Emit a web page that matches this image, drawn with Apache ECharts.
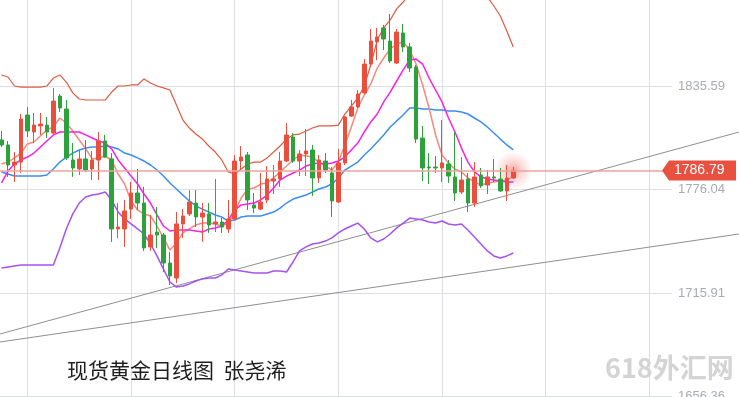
<!DOCTYPE html>
<html>
<head>
<meta charset="utf-8">
<title>现货黄金日线图</title>
<script src="https://cdn.jsdelivr.net/npm/echarts@6/dist/echarts.min.js"></script>
<style>
  html, body { margin: 0; padding: 0; background: #fff; }
  #main { width: 739px; height: 397px; }
</style>
</head>
<body>
<div id="main"></div>
<script>
  // 日K [open, close, low, high]
  const candles = [
    [1804.5, 1801.6, 1800.4, 1809.7], [1801.6, 1790.0, 1783.1, 1803.9], [1790.0, 1791.7, 1780.2, 1797.5],
    [1791.7, 1816.6, 1785.4, 1819.5], [1818.9, 1809.7, 1806.2, 1823.6], [1809.1, 1813.1, 1802.7, 1820.1],
    [1812.6, 1813.7, 1807.4, 1820.1], [1813.1, 1809.1, 1805.6, 1817.8], [1808.5, 1827.0, 1807.9, 1834.5],
    [1829.9, 1823.0, 1820.7, 1831.1], [1822.4, 1794.1, 1792.9, 1827.6], [1792.9, 1788.3, 1783.1, 1802.7],
    [1787.7, 1793.5, 1784.2, 1798.7], [1793.5, 1787.1, 1786.0, 1804.5], [1787.7, 1792.9, 1781.3, 1798.1],
    [1792.9, 1803.9, 1781.3, 1809.1], [1803.9, 1794.6, 1794.1, 1807.4], [1793.5, 1753.0, 1745.5, 1796.9],
    [1753.0, 1754.1, 1747.8, 1768.0], [1753.0, 1763.4, 1742.6, 1769.8], [1764.5, 1773.8, 1758.8, 1780.2],
    [1773.8, 1768.0, 1764.0, 1787.7], [1768.0, 1742.0, 1740.3, 1777.3], [1742.6, 1749.5, 1740.3, 1761.1],
    [1751.2, 1749.5, 1742.0, 1765.7], [1749.5, 1733.3, 1728.1, 1750.7], [1733.3, 1725.8, 1720.6, 1739.7],
    [1724.6, 1755.9, 1721.7, 1762.8], [1755.9, 1760.5, 1747.8, 1764.5], [1761.7, 1768.6, 1760.5, 1775.5],
    [1768.0, 1759.9, 1754.1, 1775.5], [1759.9, 1762.2, 1745.5, 1768.0], [1761.7, 1755.3, 1750.7, 1768.0],
    [1755.9, 1757.0, 1751.2, 1781.9], [1757.0, 1754.1, 1750.7, 1759.3], [1753.0, 1758.8, 1750.7, 1769.8],
    [1758.8, 1792.3, 1758.2, 1795.8], [1792.3, 1794.6, 1787.1, 1801.0], [1795.8, 1769.8, 1764.0, 1797.5],
    [1766.9, 1765.1, 1762.2, 1773.8], [1764.5, 1768.6, 1764.0, 1785.4], [1769.8, 1781.9, 1768.0, 1789.4],
    [1780.7, 1781.9, 1773.2, 1790.0], [1781.9, 1792.3, 1777.3, 1797.5], [1792.3, 1807.4, 1791.7, 1814.3],
    [1806.2, 1792.3, 1791.2, 1808.5], [1792.3, 1796.4, 1783.6, 1798.7], [1796.4, 1798.1, 1783.6, 1810.8],
    [1798.7, 1782.5, 1772.1, 1801.6], [1782.5, 1792.9, 1779.6, 1795.8], [1792.3, 1787.1, 1785.4, 1796.9],
    [1785.4, 1769.2, 1759.9, 1788.8], [1768.6, 1791.2, 1768.0, 1799.3], [1791.2, 1817.8, 1790.0, 1818.3],
    [1818.3, 1823.6, 1817.8, 1827.6], [1823.6, 1831.1, 1823.0, 1833.4], [1831.7, 1848.4, 1831.1, 1851.3],
    [1848.4, 1861.7, 1846.7, 1868.7], [1861.2, 1864.1, 1850.7, 1869.3], [1869.3, 1862.9, 1856.5, 1871.0],
    [1861.7, 1850.2, 1849.0, 1877.4], [1849.0, 1866.9, 1848.4, 1868.7], [1866.4, 1858.3, 1855.4, 1871.6],
    [1858.3, 1846.1, 1843.8, 1860.6], [1846.7, 1805.0, 1802.7, 1847.9], [1805.6, 1788.3, 1780.7, 1812.6],
    [1788.8, 1788.3, 1779.0, 1796.9], [1788.8, 1788.3, 1785.4, 1795.2], [1788.3, 1791.2, 1780.2, 1816.0],
    [1790.6, 1783.6, 1779.6, 1792.9], [1783.1, 1773.8, 1769.2, 1809.1], [1774.4, 1781.3, 1773.2, 1794.6],
    [1781.9, 1768.0, 1762.8, 1785.4], [1768.0, 1783.1, 1765.7, 1791.7], [1784.2, 1777.9, 1776.7, 1788.3],
    [1778.4, 1783.1, 1773.2, 1787.1], [1783.1, 1782.5, 1780.2, 1793.5], [1781.9, 1775.0, 1774.4, 1788.3],
    [1775.0, 1782.5, 1769.2, 1790.0], [1782.5, 1786.8, 1781.9, 1788.8]
  ];

  // 布林线 上轨 / 中轨 / 下轨
  const upperBand = [
    1842.1, 1840.9, 1835.7, 1835.1, 1835.1, 1835.1, 1835.1, 1835.7, 1840.3, 1842.1,
    1838.0, 1831.7, 1828.2, 1827.6, 1827.6, 1827.6, 1827.6, 1832.2, 1835.7, 1835.7,
    1836.3, 1836.3, 1839.8, 1837.4, 1835.7, 1834.6, 1833.4, 1824.7, 1816.0, 1811.4,
    1807.9, 1805.0, 1801.0, 1797.5, 1792.9, 1786.0, 1784.8, 1787.7, 1790.6, 1791.7,
    1791.7, 1794.1, 1797.5, 1801.0, 1805.0, 1807.4, 1807.9, 1809.7, 1811.4, 1812.6,
    1812.6, 1812.6, 1813.1, 1819.5, 1824.1, 1828.8, 1835.7, 1847.9, 1862.3, 1869.3,
    1873.9, 1880.3, 1884.3, 1888.9, 1892.4, 1895.9, 1898.2, 1900.5, 1901.7, 1901.7,
    1901.1, 1899.3, 1897.0, 1893.0, 1888.9, 1887.2, 1882.0, 1876.2, 1867.5, 1858.3
  ];
  const midBand = [
    1786.0, 1784.8, 1783.6, 1783.6, 1783.6, 1783.6, 1783.6, 1784.2, 1787.7, 1791.7,
    1794.6, 1796.9, 1798.7, 1799.8, 1800.4, 1800.4, 1801.0, 1800.4, 1799.3, 1796.9,
    1795.8, 1794.1, 1792.3, 1790.0, 1787.1, 1783.6, 1779.6, 1776.1, 1772.6, 1769.2,
    1766.3, 1764.5, 1762.8, 1761.1, 1759.9, 1757.6, 1758.2, 1759.9, 1760.5, 1760.5,
    1760.5, 1761.7, 1762.8, 1765.1, 1768.0, 1770.3, 1771.5, 1772.6, 1774.4, 1776.1,
    1777.3, 1779.0, 1782.5, 1787.1, 1789.4, 1791.7, 1795.8, 1799.3, 1803.3, 1807.4,
    1812.0, 1815.5, 1818.9, 1823.0, 1823.0, 1822.4, 1822.4, 1821.8, 1821.8, 1821.2,
    1821.2, 1820.7, 1819.5, 1817.2, 1814.9, 1812.0, 1808.5, 1805.0, 1801.6, 1798.7
  ];
  const lowBand = [
    1730.4, 1731.0, 1731.6, 1732.1, 1732.1, 1732.1, 1732.1, 1732.1, 1732.1, 1742.0,
    1753.0, 1761.7, 1768.0, 1771.5, 1772.6, 1773.2, 1774.4, 1769.8, 1762.8, 1758.8,
    1755.9, 1753.0, 1750.1, 1744.3, 1737.4, 1729.8, 1722.3, 1719.4, 1720.0, 1721.2,
    1722.9, 1724.1, 1724.6, 1724.6, 1726.4, 1729.8, 1729.3, 1728.7, 1728.1, 1727.5,
    1727.5, 1727.5, 1728.7, 1728.7, 1728.1, 1733.9, 1740.3, 1742.6, 1744.3, 1744.9,
    1746.0, 1747.8, 1750.7, 1753.0, 1754.7, 1756.4, 1753.0, 1747.8, 1745.5, 1747.2,
    1750.1, 1753.6, 1756.4, 1759.3, 1758.8, 1758.2, 1757.0, 1756.4, 1757.6, 1755.9,
    1755.3, 1755.9, 1752.4, 1748.3, 1744.3, 1740.3, 1737.4, 1736.2, 1737.4, 1739.1
  ];

  // 均线
  const ma5 = [
    1790.6, 1791.7, 1794.1, 1796.9, 1802.2, 1803.3, 1806.8, 1810.3, 1812.0, 1817.2,
    1814.3, 1809.7, 1804.5, 1799.3, 1793.5, 1794.1, 1795.2, 1792.9, 1784.8, 1779.0,
    1769.2, 1764.0, 1761.7, 1760.5, 1754.7, 1747.8, 1740.8, 1744.9, 1750.7, 1753.0,
    1755.3, 1756.4, 1756.4, 1755.9, 1754.7, 1756.4, 1762.8, 1770.9, 1776.1, 1776.7,
    1779.0, 1779.6, 1782.5, 1786.0, 1789.4, 1792.9, 1795.8, 1795.2, 1794.6, 1791.7,
    1789.4, 1787.1, 1791.7, 1801.6, 1812.0, 1823.0, 1830.5, 1836.9, 1846.1, 1851.9,
    1857.1, 1860.0, 1861.2, 1856.5, 1848.4, 1836.3, 1823.0, 1807.4, 1795.8, 1791.2,
    1787.7, 1786.0, 1782.5, 1780.2, 1778.4, 1779.6, 1780.2, 1780.7, 1781.3, 1783.6
  ];
  const ma10 = [
    1779.6, 1786.5, 1790.6, 1792.9, 1794.6, 1796.9, 1800.4, 1803.9, 1807.4, 1809.1,
    1809.1, 1809.1, 1809.1, 1807.4, 1805.6, 1803.9, 1802.7, 1799.3, 1792.9, 1788.3,
    1783.6, 1779.0, 1773.2, 1768.0, 1761.1, 1754.7, 1751.8, 1752.4, 1752.4, 1752.4,
    1751.8, 1751.2, 1753.0, 1753.6, 1754.7, 1758.2, 1764.0, 1766.9, 1767.4, 1768.0,
    1769.8, 1772.6, 1776.7, 1781.3, 1783.6, 1785.4, 1787.1, 1789.4, 1790.6, 1791.2,
    1790.6, 1791.2, 1792.3, 1794.6, 1798.7, 1802.7, 1809.1, 1814.9, 1819.5, 1826.5,
    1832.2, 1838.6, 1845.0, 1850.7, 1851.3, 1848.4, 1840.3, 1833.4, 1826.5, 1817.2,
    1809.1, 1799.8, 1791.7, 1786.0, 1783.1, 1781.9, 1781.3, 1780.7, 1780.2, 1780.2
  ];

  // 右侧价格刻度
  const priceTicks = [1656.36, 1715.91, 1776.04, 1835.59];
  const lastPrice = 1786.79;

  // 趋势线 [K线序号, 价格]
  const trendUpper = [[-1, 1691.45], [115, 1810.26]];
  const trendLower = [[-1, 1687.18], [115, 1750.72]];

  const TOTAL_SLOTS = 104;
  const days = Array.from({ length: TOTAL_SLOTS }, (_, i) => 'D' + (i + 1));

  const W = 739;
  const GRID_LEFT = -1.72;
  const GRID_RIGHT = 67;
  const Y_MIN = 1655.78;
  const Y_MAX = 1885.46;
  const slotW = (W - GRID_RIGHT - GRID_LEFT) / TOTAL_SLOTS;

  const RED = '#ea4f3d';
  const GREEN = '#2ba33a';

  const myChart = echarts.init(document.getElementById('main'), null, { renderer: 'canvas' });

  const lineSeries = (name, data, color, width) => ({
    name: name,
    type: 'line',
    data: data,
    showSymbol: false,
    silent: true,
    z: 3,
    lineStyle: { color: color, width: width }
  });

  myChart.setOption({
    animation: false,
    backgroundColor: '#fff',
    grid: [
      { left: GRID_LEFT, right: GRID_RIGHT, top: 0, bottom: 0, outerBoundsMode: 'none' },
      { left: 0, right: 0, top: 0, bottom: 0, outerBoundsMode: 'none' }
    ],
    xAxis: [
      {
        type: 'category',
        data: days,
        boundaryGap: true,
        axisLine: { show: false },
        axisTick: { show: false },
        axisLabel: { show: false },
        splitLine: {
          show: true,
          alignWithLabel: true,
          interval: (i) => i % 16 === 4,
          lineStyle: { color: '#dedee6', width: 1 }
        }
      },
      {
        type: 'value',
        gridIndex: 1,
        min: (0 - GRID_LEFT) / slotW - 0.5,
        max: (W - GRID_LEFT) / slotW - 0.5,
        show: false
      }
    ],
    yAxis: [
      {
        type: 'value',
        position: 'right',
        min: Y_MIN,
        max: Y_MAX,
        axisLine: { show: false },
        axisTick: { show: false, customValues: priceTicks },
        axisLabel: {
          customValues: priceTicks,
          formatter: (v) => v.toFixed(2),
          color: '#a9abb6',
          fontSize: 13,
          fontFamily: 'Liberation Sans, Arial, sans-serif',
          margin: 6
        },
        splitLine: { show: true, lineStyle: { color: '#dedee6', width: 1 } }
      },
      {
        type: 'value',
        gridIndex: 1,
        min: Y_MIN,
        max: Y_MAX,
        show: false,
        splitLine: { show: false }
      }
    ],
    series: [
      {
        name: 'glow',
        type: 'scatter',
        data: [[candles.length - 1, lastPrice]],
        symbolSize: 38,
        silent: true,
        z: 1,
        itemStyle: {
          color: new echarts.graphic.RadialGradient(0.5, 0.5, 0.5, [
            { offset: 0, color: 'rgba(236,60,50,0.6)' },
            { offset: 0.45, color: 'rgba(236,60,50,0.25)' },
            { offset: 1, color: 'rgba(236,60,50,0)' }
          ])
        }
      },
      {
        name: 'K',
        type: 'candlestick',
        data: candles,
        barWidth: 4,
        z: 4,
        itemStyle: {
          color: RED,
          color0: GREEN,
          borderColor: RED,
          borderColor0: GREEN,
          borderWidth: 1
        },
        markLine: {
          silent: true,
          symbol: 'none',
          label: { show: false },
          lineStyle: { color: '#eca49c', width: 1.5, type: 'solid' },
          data: [{ yAxis: lastPrice }]
        }
      },
      lineSeries('UP', upperBand, '#de5a3e', 1.2),
      lineSeries('MID', midBand, '#3a8ef2', 1.5),
      lineSeries('LOW', lowBand, '#a652f2', 1.5),
      lineSeries('MA5', ma5, '#f5897c', 1.5),
      lineSeries('MA10', ma10, '#f522e8', 1.5),
      {
        name: 'trend1',
        type: 'line',
        xAxisIndex: 1,
        yAxisIndex: 1,
        data: trendUpper,
        showSymbol: false,
        silent: true,
        z: 2,
        lineStyle: { color: '#8f8f8f', width: 1 }
      },
      {
        name: 'trend2',
        type: 'line',
        xAxisIndex: 1,
        yAxisIndex: 1,
        data: trendLower,
        showSymbol: false,
        silent: true,
        z: 2,
        lineStyle: { color: '#8f8f8f', width: 1 }
      }
    ]
  });

  // 价格标签 + 文字
  const py = myChart.convertToPixel({ yAxisIndex: 0 }, lastPrice);
  const tip = W - GRID_RIGHT - 10;
  myChart.setOption({
    graphic: [
      {
        type: 'polygon',
        z: 10,
        silent: true,
        shape: {
          points: [[tip, py], [tip + 7, py - 10], [W - 3, py - 10], [W - 3, py + 10], [tip + 7, py + 10]]
        },
        style: { fill: '#e9503f' }
      },
      {
        type: 'text',
        z: 11,
        silent: true,
        x: tip + 12,
        y: py,
        style: {
          text: lastPrice.toFixed(2),
          fill: '#fff',
          font: '14px "Liberation Sans", Arial, sans-serif',
          verticalAlign: 'middle'
        }
      },
      {
        type: 'text',
        z: 11,
        silent: true,
        left: 67,
        top: 360,
        style: {
          text: '现货黄金日线图  张尧浠',
          fill: '#1f1f1f',
          font: '21px "Noto Sans CJK SC", sans-serif'
        }
      },
      {
        type: 'text',
        z: 11,
        silent: true,
        left: 605,
        top: 354,
        style: {
          text: '618外汇网',
          fill: '#d4d4d4',
          font: 'bold 27px "Noto Sans CJK SC", sans-serif'
        }
      }
    ]
  });
</script>
</body>
</html>
